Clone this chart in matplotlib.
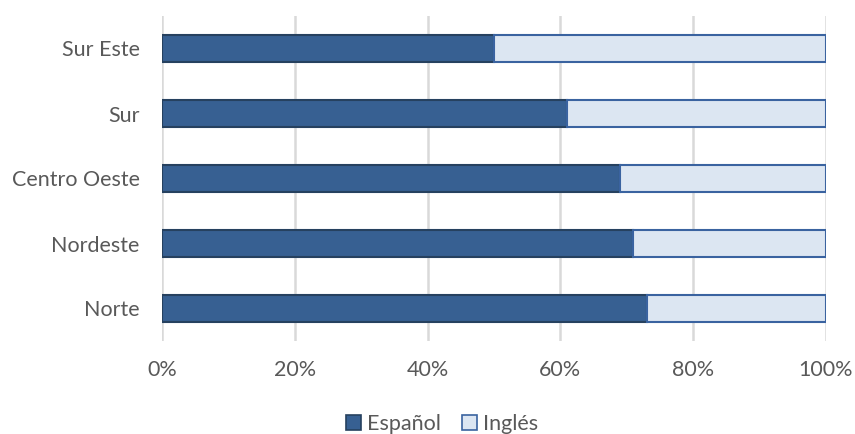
import matplotlib.pyplot as plt
from matplotlib.ticker import FuncFormatter
from matplotlib.patches import Patch

regions = ["Norte", "Nordeste", "Centro Oeste", "Sur", "Sur Este"]
espanol = [73, 71, 69, 61, 50]
ingles = [27, 29, 31, 39, 50]
series_names = ["Español", "Inglés"]
x_ticks = [0, 20, 40, 60, 80, 100]

dark_fill, dark_edge = "#376092", "#26415f"
light_fill, light_edge = "#dce6f2", "#3a63a0"
text_color = "#595959"

plt.rcParams["font.family"] = ["Lato", "DejaVu Sans"]

fig = plt.figure(figsize=(8.55, 4.34), dpi=100)
ax = fig.add_axes([162 / 855, 1 - 341 / 434, (826 - 162) / 855, 325 / 434])

y = list(range(len(regions)))
bh = 0.42
ax.barh(y, espanol, height=bh, color=dark_fill, edgecolor=dark_edge, linewidth=1.5, zorder=3)
ax.barh(y, ingles, left=espanol, height=bh, color=light_fill, edgecolor=light_edge,
        linewidth=1.5, zorder=3)

ax.set_xlim(0, 100)
ax.set_ylim(-0.5, len(regions) - 0.5)
ax.set_xticks(x_ticks)
ax.xaxis.set_major_formatter(FuncFormatter(lambda v, p: f"{v:.0f}%"))
ax.set_yticks(y)
ax.set_yticklabels(regions)
ax.grid(axis="x", color="#d9d9d9", linewidth=1.8, zorder=0)
for s in ax.spines.values():
    s.set_visible(False)
ax.tick_params(length=0, labelsize=15.5, colors=text_color)
ax.tick_params(axis="y", pad=16)
ax.tick_params(axis="x", pad=14)

handles = [Patch(facecolor=dark_fill, edgecolor=dark_edge, linewidth=1.2),
           Patch(facecolor=light_fill, edgecolor=light_edge, linewidth=1.2)]
fig.legend(handles, series_names, loc="center", bbox_to_anchor=(442 / 855, 1 - 424 / 434),
           ncol=2, frameon=False, fontsize=15.5, handlelength=0.7, handleheight=0.7,
           handletextpad=0.25, columnspacing=1.0, labelcolor=text_color)

fig.savefig("out.png", dpi=100, facecolor="white")
